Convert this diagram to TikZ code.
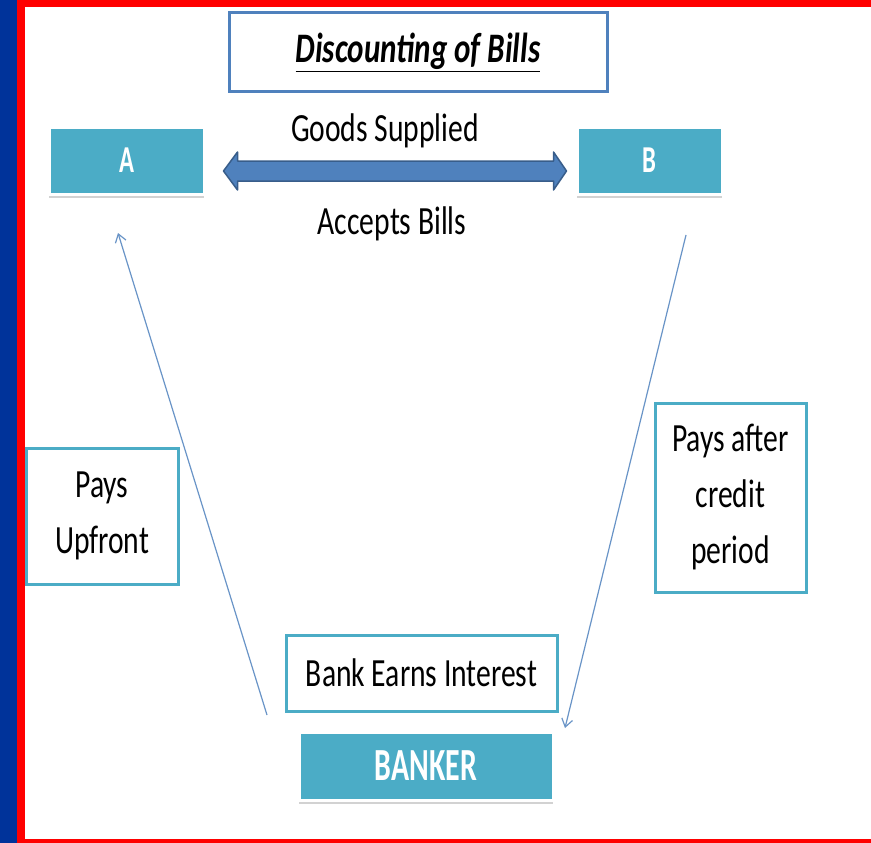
\documentclass[tikz,border=0pt]{standalone}
\usepackage{fontspec}
\setmainfont{Carlito}
\newfontfamily\slidefont[FakeStretch=0.74]{Carlito}
\newfontfamily\slidebold[FakeStretch=0.65]{Carlito}
\usepackage{tikz}
\usetikzlibrary{calc}
\usetikzlibrary{shadows}
\usetikzlibrary{arrows.meta}
\definecolor{tealc}{HTML}{4BACC6}
\definecolor{titleblue}{HTML}{4F81BD}
\definecolor{arrowdark}{HTML}{385D8A}
\definecolor{stripblue}{HTML}{00339A}

\begin{document}
\begin{tikzpicture}[x=1pt,y=-1pt,
	partybox/.style={fill=tealc, draw=white, line width=3, inner sep=0, text=white,
		drop shadow={shadow xshift=0pt, shadow yshift=-4pt, opacity=0.35}},
	sidebox/.style={draw=tealc, line width=3, inner sep=0, align=center,
		font=\slidefont\fontsize{40}{56}\selectfont},
	plaintext/.style={inner sep=0, font=\slidefont\fontsize{40}{48}\selectfont},
	thinarrow/.style={draw=titleblue!85, line width=1.2, -{Straight Barb[length=8pt,width=11pt]}}]
		
		\useasboundingbox (0,0) rectangle (871,843);
		\fill[white] (0,0) rectangle (871,843);
		
		% frame of the slide
		\fill[stripblue] (0,0) rectangle (17,843);
		\fill[red] (17,0) rectangle (25,843);
		\fill[red] (17,0) rectangle (871,7);
		\fill[red] (17,839) rectangle (871,843);
		
		\node[draw=titleblue, line width=3, minimum width=378, minimum height=79,
			font=\slidefont\fontsize{42}{50}\selectfont\bfseries\itshape] (title) at (418,52.5) {\underline{Discounting of Bills}};
		
		\node[partybox, minimum width=155, minimum height=67, font=\slidebold\fontsize{38}{44}\selectfont\bfseries] (A) at (126.5,160.5) {A};
		\node[partybox, minimum width=145, minimum height=67, font=\slidebold\fontsize{38}{44}\selectfont\bfseries] (B) at (649.5,160.5) {B};
		\node[partybox, minimum width=254, minimum height=68, font=\slidebold\fontsize{46}{52}\selectfont\bfseries] (banker) at (426,766) {BANKER};
		
		\node[sidebox, minimum width=271, minimum height=76] (interest) at (421.5,673) {Bank Earns Interest};
		\node[sidebox, minimum width=152, minimum height=136] (upfront) at (102,516) {Pays\\Upfront};
		\node[sidebox, minimum width=151, minimum height=189] (credit) at (730.5,497.5) {Pays after\\credit\\period};
		
		\node[plaintext] (goods) at (385,131) {Goods Supplied};
		\node[plaintext] (accepts) at (392,224) {Accepts Bills};
		
		% big double arrow between A and B
		\path (A.east) ++(18,10.5) coordinate (gl);
		\path (B.west) ++(-9,10.5) coordinate (gr);
		\draw[fill=titleblue, draw=arrowdark, line width=1.5, line join=round]
			(gl) -- ++(14,-19) -- ++(0,9) -- ($(gr)+(-13,-10)$) -- ++(0,-9) -- (gr)
			-- ++(-13,19) -- ++(0,-9) -- ($(gl)+(14,10)$) -- ++(0,9) -- cycle;
		
		\coordinate (upA) at (118,233);
		\coordinate (upBk) at (267,715);
		\coordinate (dnB) at (686,235);
		\coordinate (dnBk) at (565,728);
		\draw[thinarrow] (upBk) -- (upA);
		\draw[thinarrow] (dnB) -- (dnBk);
		
		\end{tikzpicture}
\end{document}
